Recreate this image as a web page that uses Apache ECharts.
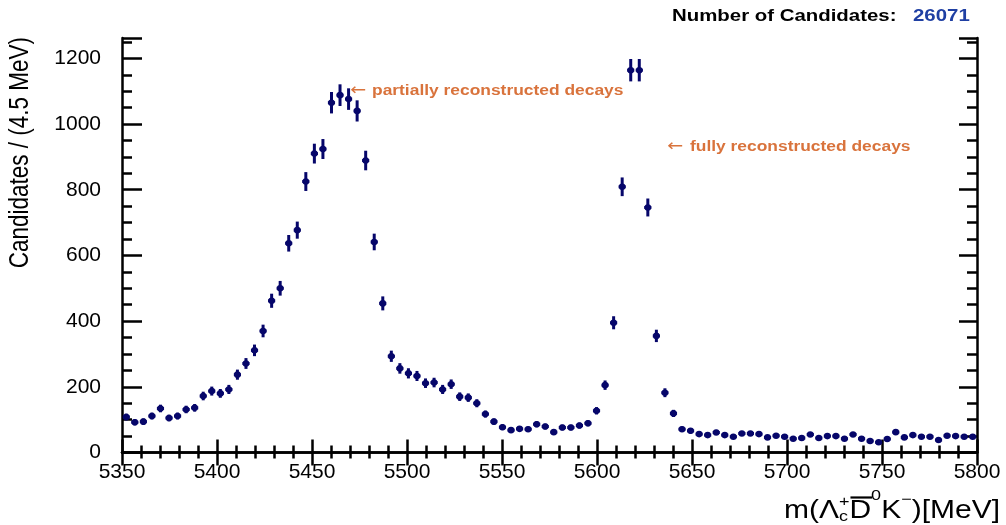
<!DOCTYPE html>
<html><head><meta charset="utf-8">
<script src="https://cdn.jsdelivr.net/npm/echarts@6/dist/echarts.min.js"></script>
<style>html,body{margin:0;padding:0;background:#fff}#c{width:1006px;height:525px}</style>
</head><body><div id="c"></div>
<script>
// ---- data ----
const binCenters = [
 5352.25,5356.75,5361.25,5365.75,5370.25,5374.75,5379.25,5383.75,5388.25,5392.75,
 5397.25,5401.75,5406.25,5410.75,5415.25,5419.75,5424.25,5428.75,5433.25,5437.75,
 5442.25,5446.75,5451.25,5455.75,5460.25,5464.75,5469.25,5473.75,5478.25,5482.75,
 5487.25,5491.75,5496.25,5500.75,5505.25,5509.75,5514.25,5518.75,5523.25,5527.75,
 5532.25,5536.75,5541.25,5545.75,5550.25,5554.75,5559.25,5563.75,5568.25,5572.75,
 5577.25,5581.75,5586.25,5590.75,5595.25,5599.75,5604.25,5608.75,5613.25,5617.75,
 5622.25,5626.75,5631.25,5635.75,5640.25,5644.75,5649.25,5653.75,5658.25,5662.75,
 5667.25,5671.75,5676.25,5680.75,5685.25,5689.75,5694.25,5698.75,5703.25,5707.75,
 5712.25,5716.75,5721.25,5725.75,5730.25,5734.75,5739.25,5743.75,5748.25,5752.75,
 5757.25,5761.75,5766.25,5770.75,5775.25,5779.75,5784.25,5788.75,5793.25,5797.75
];
const counts = [
 108, 92, 94,111,134,105,111,131,136,172,
 187,180,192,237,271,311,370,462,500,637,
 677,825,910,924,1065,1088,1076,1040,889,641,
 454,293,256,241,233,211,213,192,208,170,
 167,150,117, 94, 77, 68, 72, 71, 86, 79,
  62, 76, 76, 82, 89,127,205,395,809,1164,
 1164,746,355,182,119, 71, 66, 56, 53, 61,
  53, 48, 58, 58, 56, 46, 51, 48, 42, 44,
  55, 44, 50, 50, 42, 55, 42, 35, 31, 41,
  62, 46, 53, 48, 48, 38, 51, 50, 48, 48
];
const binHalfWidth = 2.25;
const xRange = [5350, 5800];
const xStep = 50;
const yRange = [0, 1262];
const yStep = 200;
const headerLabel = 'Number of Candidates: ';
const headerValue = '26071';
const annoTexts = ['partially reconstructed decays', 'fully reconstructed decays'];
const yTitle = 'Candidates / (4.5 MeV)';

// ---- style ----
const FONT = "'Liberation Sans', Arial, Helvetica, sans-serif";
const MARK = '#06066a';
const ORANGE = '#d9733c';
const BLUE = '#1f3fa3';
const SX = 1.2; // horizontal stretch of the reference's text

const chart = echarts.init(document.getElementById('c'));

function renderItem(params, api) {
  const x = api.value(0), y = api.value(1), e = api.value(2);
  const c = api.coord([x, y]);
  const t = api.coord([x, y + e]);
  const b = api.coord([x, Math.max(0, y - e)]);
  const l = api.coord([x - binHalfWidth, y]);
  const r = api.coord([x + binHalfWidth, y]);
  return {type: 'group', children: [
    {type: 'line', shape: {x1: c[0], y1: t[1], x2: c[0], y2: b[1]}, style: {stroke: MARK, lineWidth: 3}},
    {type: 'line', shape: {x1: l[0] + 0.7, y1: c[1], x2: r[0] - 0.7, y2: c[1]}, style: {stroke: MARK, lineWidth: 3}},
    {type: 'circle', shape: {cx: c[0], cy: c[1], r: 3.3}, style: {fill: MARK}}
  ]};
}

function txt(text, x, y, size, o) {
  o = o || {};
  return {type: 'text', x: x, y: y, scaleX: o.sx || 1, scaleY: o.sy || 1, rotation: o.rot || 0, silent: true, z: 100,
    style: {text: text, fill: o.color || '#000', fontSize: size, fontFamily: o.family || FONT, fontWeight: o.weight || 'normal',
      textAlign: o.align || 'left', textVerticalAlign: o.valign || 'middle', align: o.align || 'left', verticalAlign: o.valign || 'middle'}};
}

const mctx = document.createElement('canvas').getContext('2d');
function measure(t, size) { mctx.font = size + 'px ' + FONT; return mctx.measureText(t).width; }

// x-axis title  m(Λc+ D̄0 K−)[MeV]
const F = 25, s = 15, yMain = 511;
const parts = [];
const w1 = measure('m(Λ', F), wc = Math.max(measure('c', s), measure('+', s)), wD = measure('D', F),
      w0 = measure('0', s), wK = measure('K', F), wm = measure('\u2212', s), wEnd = measure(')[MeV]', F);
const total = (w1 + wc + wD + w0 + wK + wm + wEnd) * SX;
let cx = 1000 - total;
parts.push(txt('m(Λ', cx, yMain, F, {sx: SX})); cx += w1 * SX;
parts.push(txt('c', cx, 517, s, {sx: SX}));
parts.push(txt('+', cx, 502, s, {sx: SX})); cx += wc * SX;
parts.push(txt('D', cx, yMain, F, {sx: SX}));
parts.push({type: 'line', silent: true, z: 100, shape: {x1: cx + 1, y1: 497.5, x2: cx + wD * SX + 1, y2: 497.5}, style: {stroke: '#000', lineWidth: 2.2}});
cx += wD * SX;
parts.push(txt('0', cx, 496, s, {sx: SX})); cx += w0 * SX;
parts.push(txt('K', cx, yMain, F, {sx: SX})); cx += wK * SX;
parts.push(txt('\u2212', cx, 500, s, {sx: SX})); cx += wm * SX;
parts.push(txt(')[MeV]', cx, yMain, F, {sx: SX}));

const ARROWFONT = "'DejaVu Sans', sans-serif";
const graphics = parts.concat([
  txt(yTitle, 34, 37, 22.5, {rot: Math.PI / 2, align: 'right', valign: 'bottom', sy: SX}),
  txt(headerLabel, 672, 16, 17, {weight: 'bold', sx: SX}),
  txt(headerValue, 913, 16, 17, {weight: 'bold', sx: SX, color: BLUE}),
  txt('\u2190', 350, 91, 16, {sx: SX, color: ORANGE, family: ARROWFONT}),
  txt(annoTexts[0], 372, 91, 14.5, {weight: 'bold', sx: SX, color: ORANGE}),
  txt('\u2190', 667, 147, 16, {sx: SX, color: ORANGE, family: ARROWFONT}),
  txt(annoTexts[1], 690, 147, 14.5, {weight: 'bold', sx: SX, color: ORANGE})
]);

function xAx(pos, show) {
  return {type: 'value', min: xRange[0], max: xRange[1], interval: xStep, position: pos,
    axisLine: {show: true, lineStyle: {color: '#000', width: 2.5}},
    axisTick: {show: true, inside: true, length: 13, lineStyle: {color: '#000', width: 2.5}},
    minorTick: {show: true, splitNumber: 5, length: show ? 7 : 6, lineStyle: {color: '#000', width: 2.5}},
    splitLine: {show: false},
    axisLabel: {show: show, margin: 9, fontFamily: FONT, fontSize: 21, color: '#000', formatter: v => String(v)}};
}
function yAx(pos, show) {
  return {type: 'value', min: yRange[0], max: yRange[1], interval: yStep, position: pos,
    axisLine: {show: true, lineStyle: {color: '#000', width: 2.5}},
    axisTick: {show: true, inside: true, length: show ? 20 : 18, lineStyle: {color: '#000', width: 2.5}},
    minorTick: {show: true, splitNumber: 4, length: 10, lineStyle: {color: '#000', width: 2.5}},
    splitLine: {show: false},
    axisLabel: {show: show, margin: 21, fontFamily: FONT, fontSize: 21, color: '#000', showMaxLabel: false,
      formatter: v => (v % yStep === 0 ? String(v) : '')}};
}

chart.setOption({
  animation: false,
  backgroundColor: '#fff',
  grid: {left: 122, right: 29, top: 38, bottom: 72.5},
  xAxis: [xAx('bottom', true), xAx('top', false)],
  yAxis: [yAx('left', true), yAx('right', false)],
  series: [{
    type: 'custom', xAxisIndex: 0, yAxisIndex: 0,
    renderItem: renderItem,
    encode: {x: 0, y: 1},
    data: binCenters.map((x, i) => [x, counts[i], Math.sqrt(counts[i])])
  }],
  graphic: graphics
});
</script></body></html>
